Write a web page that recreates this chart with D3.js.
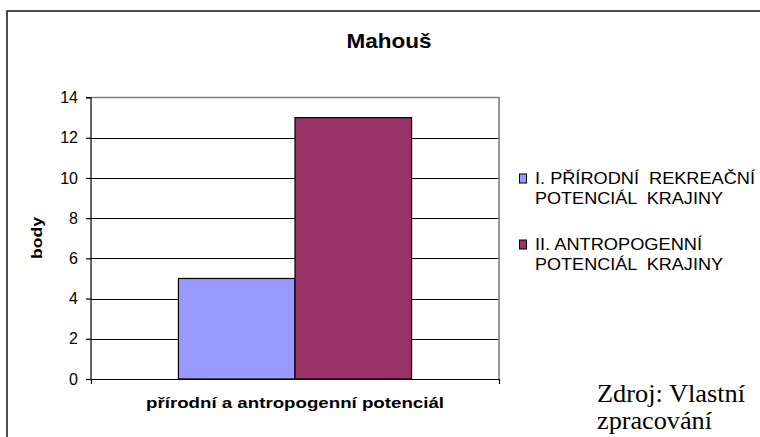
<!DOCTYPE html>
<html>
<head>
<meta charset="utf-8">
<script src="https://cdn.jsdelivr.net/npm/d3@7"></script>
<style>
  html, body { margin: 0; padding: 0; background: #fff; }
  svg text { white-space: pre; }
</style>
</head>
<body>
<svg id="chart" width="760" height="437"></svg>
<script>
// ---- data ----
const chartTitle = "Mahouš";
const categories = ["přírodní a antropogenní potenciál"];
const seriesNames = ["I. PŘÍRODNÍ  REKREAČNÍ POTENCIÁL  KRAJINY", "II. ANTROPOGENNÍ POTENCIÁL  KRAJINY"];
const legendLines = [["I. PŘÍRODNÍ  REKREAČNÍ", "POTENCIÁL  KRAJINY"], ["II. ANTROPOGENNÍ", "POTENCIÁL  KRAJINY"]];
const seriesValues = [5, 13];
const seriesColors = ["#9999FF", "#993366"];
const yTicks = [0, 2, 4, 6, 8, 10, 12, 14];
const yAxisTitle = "body";
const xAxisTitle = "přírodní a antropogenní potenciál";
const sourceLines = ["Zdroj: Vlastní", "zpracování"];

// ---- layout ----
const svg = d3.select("#chart");
const plot = { left: 91, right: 499, top: 97.5, bottom: 379 };
const font = "'Liberation Sans', Arial, sans-serif";

// outer border (only top and left visible)
svg.append("rect")
  .attr("x", 7).attr("y", 11).attr("width", 800).attr("height", 500)
  .attr("fill", "none").attr("stroke", "#222").attr("stroke-width", 1.6);

const y = d3.scaleLinear().domain([0, 14]).range([plot.bottom, plot.top]);
const x0 = d3.scaleBand().domain(categories).range([plot.left, plot.right])
  .paddingInner(0).paddingOuter(0.375);
const x1 = d3.scaleBand().domain(seriesNames).range([0, x0.bandwidth()]).padding(0);

// gridlines
svg.append("g").selectAll("line")
  .data(yTicks.filter(t => t > 0 && t < 14))
  .join("line")
  .attr("x1", plot.left).attr("x2", plot.right)
  .attr("y1", d => Math.round(y(d)) + 0.5).attr("y2", d => Math.round(y(d)) + 0.5)
  .attr("stroke", "#000").attr("stroke-width", 1.2);

// plot border top and right (gray)
svg.append("path")
  .attr("d", `M${plot.left},${plot.top}H${plot.right}V${plot.bottom}`)
  .attr("fill", "none").attr("stroke", "#808080").attr("stroke-width", 1.6);

// bars
svg.append("g").selectAll("rect")
  .data(seriesValues.map((v, i) => ({ name: seriesNames[i], value: v, color: seriesColors[i] })))
  .join("rect")
  .attr("x", d => x0(categories[0]) + x1(d.name))
  .attr("y", d => y(d.value))
  .attr("width", x1.bandwidth())
  .attr("height", d => y(0) - y(d.value))
  .attr("fill", d => d.color)
  .attr("stroke", "#000").attr("stroke-width", 1.2);

// y axis
const yAxis = d3.axisLeft(y).tickValues(yTicks).tickSize(5).tickPadding(8).tickFormat(d3.format("d"));
const gy = svg.append("g").attr("transform", `translate(${plot.left},0)`).call(yAxis);
gy.select(".domain").attr("stroke", "#000").attr("stroke-width", 1.2).attr("d", `M-5,${plot.top}H0V${plot.bottom}`);
gy.selectAll(".tick line").attr("stroke", "#000").attr("stroke-width", 1.2);
gy.selectAll(".tick text").attr("font-family", font).attr("font-size", 16).attr("fill", "#000");

// x axis
const gx = svg.append("g").attr("transform", `translate(0,${plot.bottom})`)
  .call(d3.axisBottom(x0).tickValues([]).tickSizeOuter(5));
gx.select(".domain").attr("stroke", "#000").attr("stroke-width", 1.2);

// title
svg.append("text").attr("x", 389).attr("y", 48).attr("text-anchor", "middle")
  .attr("font-family", font).attr("font-weight", "bold").attr("font-size", 21)
  .attr("textLength", 85).attr("lengthAdjust", "spacingAndGlyphs")
  .text(chartTitle);

// y axis title
svg.append("text").attr("transform", "translate(42,238) rotate(-90)")
  .attr("text-anchor", "middle")
  .attr("font-family", font).attr("font-weight", "bold").attr("font-size", 15)
  .attr("textLength", 42).attr("lengthAdjust", "spacingAndGlyphs")
  .text(yAxisTitle);

// x axis title
svg.append("text").attr("x", 295).attr("y", 408).attr("text-anchor", "middle")
  .attr("font-family", font).attr("font-weight", "bold").attr("font-size", 15)
  .attr("textLength", 298).attr("lengthAdjust", "spacingAndGlyphs")
  .text(xAxisTitle);

// legend
const legendTop = [184, 250];
const legendWidths = [[220, 188], [167, 188]];
const lg = svg.append("g");
legendLines.forEach((lines, i) => {
  lg.append("rect").attr("x", 519.5).attr("y", legendTop[i] - 10).attr("width", 7).attr("height", 9)
    .attr("fill", seriesColors[i]).attr("stroke", "#000").attr("stroke-width", 1);
  lines.forEach((ln, j) => {
    lg.append("text").attr("x", 535).attr("y", legendTop[i] + j * 20)
      .attr("font-family", font).attr("font-size", 16)
      .attr("textLength", legendWidths[i][j]).attr("lengthAdjust", "spacingAndGlyphs")
      .text(ln);
  });
});

// source note
const srcWidths = [148, 115];
sourceLines.forEach((ln, j) => {
  svg.append("text").attr("x", 597).attr("y", 402 + j * 27)
    .attr("font-family", "'Liberation Serif', 'Times New Roman', serif").attr("font-size", 25)
    .attr("textLength", srcWidths[j]).attr("lengthAdjust", "spacingAndGlyphs")
    .text(ln);
});
</script>
</body>
</html>
